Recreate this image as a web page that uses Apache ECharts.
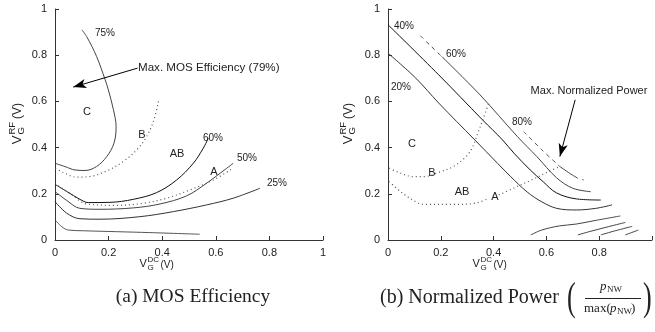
<!DOCTYPE html>
<html><head><meta charset="utf-8">
<script src="https://cdn.jsdelivr.net/npm/echarts@6/dist/echarts.min.js"></script>
<style>html,body{margin:0;padding:0;background:#fff}#c{width:655px;height:332px}</style>
</head><body><div id="c"></div>
<script>
// ---- axis ticks ----
const xTicks = [0, 0.2, 0.4, 0.6, 0.8, 1];
const yTicks = [0, 0.2, 0.4, 0.6, 0.8, 1];

// ---- (a) MOS efficiency contours [VG_DC, VG_RF] ----
const mos75 = [[0.100,0.910],[0.118,0.881],[0.155,0.795],[0.187,0.694],[0.199,0.650],[0.218,0.564],[0.228,0.491],[0.220,0.419],[0.193,0.361],[0.155,0.318],[0.112,0.301],[0.075,0.303],[0.037,0.318],[0,0.332]];
const mosB = [[0.386,0.600],[0.369,0.520],[0.342,0.448],[0.305,0.390],[0.255,0.340],[0.193,0.299],[0.131,0.275],[0.081,0.272],[0.031,0.292],[0,0.311]];
const mos60 = [[0,0.241],[0.044,0.210],[0.093,0.176],[0.124,0.162],[0.205,0.163],[0.292,0.176],[0.379,0.205],[0.454,0.260],[0.516,0.332],[0.553,0.397],[0.572,0.441]];
const mosA = [[0,0.243],[0.056,0.202],[0.118,0.156],[0.230,0.150],[0.330,0.159],[0.417,0.181],[0.504,0.217],[0.591,0.260],[0.665,0.311]];
const mos50 = [[0,0.210],[0.044,0.171],[0.093,0.137],[0.168,0.133],[0.292,0.139],[0.392,0.156],[0.491,0.191],[0.566,0.246],[0.616,0.289],[0.665,0.332]];
const mos25 = [[0,0.166],[0.044,0.116],[0.093,0.092],[0.168,0.090],[0.317,0.101],[0.442,0.123],[0.566,0.152],[0.665,0.181],[0.765,0.224]];
const mosLow = [[0,0.087],[0.025,0.058],[0.050,0.043],[0.106,0.040],[0.230,0.036],[0.354,0.032],[0.540,0.025]];
const arrowMOS = [[0.308,0.744],[0.068,0.662]];

// ---- (b) normalized power contours ----
const pw20 = [[0,0.809],[0.105,0.701],[0.192,0.593],[0.329,0.433],[0.415,0.332],[0.465,0.274],[0.527,0.208],[0.583,0.165],[0.639,0.137],[0.713,0.130],[0.787,0.137],[0.849,0.152]];
const pw40 = [[0,0.932],[0.192,0.715],[0.358,0.520],[0.434,0.433],[0.477,0.376],[0.539,0.303],[0.589,0.251],[0.638,0.204],[0.713,0.178],[0.806,0.173]];
const pw60dash = [[0.123,0.884],[0.162,0.840],[0.203,0.795]];
const pw60 = [[0.203,0.795],[0.348,0.629],[0.490,0.448],[0.564,0.361],[0.639,0.269],[0.700,0.224],[0.768,0.209]];
const pw80dash = [[0.514,0.469],[0.583,0.390],[0.651,0.318]];
const pw80 = [[0.651,0.318],[0.688,0.289],[0.719,0.267]];
const pw80tail = [[0.735,0.262],[0.742,0.260]];
const pwB = [[0.005,0.311],[0.048,0.289],[0.098,0.274],[0.135,0.274],[0.199,0.296],[0.247,0.318],[0.296,0.361],[0.321,0.404],[0.340,0.462],[0.359,0.520],[0.384,0.599]];
const pwA = [[0.005,0.253],[0.048,0.209],[0.115,0.160],[0.148,0.154],[0.247,0.154],[0.333,0.160],[0.380,0.180]];
const pwA2 = [[0.420,0.195],[0.477,0.225],[0.544,0.260],[0.601,0.292],[0.651,0.318]];
const pwLow1 = [[0.541,0.022],[0.582,0.043],[0.649,0.061],[0.713,0.069],[0.787,0.085],[0.880,0.104]];
const pwLow2 = [[0.719,0.022],[0.762,0.036],[0.836,0.058],[0.899,0.076]];
const pwLow3 = [[0.806,0.022],[0.861,0.040],[0.925,0.059]];
const pwLow4 = [[0.899,0.022],[0.948,0.043]];
const arrowPW = [[0.709,0.607],[0.651,0.361]];

const SANS = 'Liberation Sans, Arial, sans-serif';
const SERIF = 'Liberation Serif, Times New Roman, serif';

function xAxisCfg(grid, hideOne) {
  return {
    type: 'value', gridIndex: grid, min: xTicks[0], max: xTicks[xTicks.length-1], interval: 0.2,
    axisLine: { lineStyle: { color: '#333', width: 1 } },
    axisTick: { inside: true, length: 4, lineStyle: { color: '#333' } },
    axisLabel: { fontFamily: SANS, fontSize: 11, color: '#222', margin: 7,
      formatter: v => (hideOne && v === 1) ? '' : (v === 0 ? '0' : v === 1 ? '1' : v.toFixed(1)) },
    splitLine: { show: false }
  };
}
function yAxisCfg(grid) {
  return {
    type: 'value', gridIndex: grid, min: yTicks[0], max: yTicks[yTicks.length-1], interval: 0.2,
    axisLine: { show: true, lineStyle: { color: '#333', width: 1 } },
    axisTick: { show: true, inside: true, length: 4, lineStyle: { color: '#333' } },
    axisLabel: { fontFamily: SANS, fontSize: 11, color: '#222', margin: 8,
      formatter: v => (v === 0 ? '0' : v === 1 ? '1' : v.toFixed(1)) },
    splitLine: { show: false }
  };
}

function curve(data, g, color, type, width) {
  return {
    type: 'line', xAxisIndex: g, yAxisIndex: g, data: data, showSymbol: false, symbol: 'none',
    smooth: 0.35, animation: false, silent: true,
    lineStyle: { color: color, width: width || 1, type: type || 'solid' }
  };
}
function arrow(data, g) {
  return {
    type: 'line', xAxisIndex: g, yAxisIndex: g, data: [], showSymbol: false, animation: false, silent: true,
    markLine: {
      silent: true, animation: false, symbol: ['none', 'arrow'], symbolSize: [7, 13],
      label: { show: false },
      lineStyle: { color: '#000', width: 1, type: 'solid' },
      data: [[{ coord: data[0] }, { coord: data[1] }]]
    }
  };
}

const DOT = [1, 3];
const DASH = [4, 4];
const series = [
  curve(mos75, 0, '#444'),
  curve(mosB, 0, '#555', DOT, 1.2),
  curve(mos60, 0, '#111'),
  curve(mosA, 0, '#555', DOT, 1.2),
  curve(mos50, 0, '#444'),
  curve(mos25, 0, '#333'),
  curve(mosLow, 0, '#555'),
  arrow(arrowMOS, 0),
  curve(pw20, 1, '#333'),
  curve(pw40, 1, '#111'),
  curve(pw60dash, 1, '#444', DASH),
  curve(pw60, 1, '#444'),
  curve(pw80dash, 1, '#555', DASH),
  curve(pw80, 1, '#444'),
  curve(pw80tail, 1, '#666'),
  curve(pwB, 1, '#555', DOT, 1.2),
  curve(pwA, 1, '#555', DOT, 1.2),
  curve(pwA2, 1, '#555', DOT, 1.2),
  curve(pwLow1, 1, '#444'),
  curve(pwLow2, 1, '#444'),
  curve(pwLow3, 1, '#444'),
  curve(pwLow4, 1, '#444'),
  arrow(arrowPW, 1)
];

function T(text, x, y, opts) {
  opts = opts || {};
  return {
    type: 'text', x: x, y: y, silent: true, rotation: opts.rot || 0,
    style: {
      text: text, fill: opts.fill || '#222',
      font: (opts.italic ? 'italic ' : '') + (opts.size || 11) + 'px ' + (opts.family || SANS),
      textAlign: opts.align || 'center', align: opts.align || 'center',
      textVerticalAlign: opts.va || 'middle', verticalAlign: opts.va || 'middle'
    }
  };
}
// composite axis label: V with superscript/subscript, then (V)
function vLabel(sup, sub, cx, cy, rot, big) {
  const s = big ? 1.2 : 1;
  const w = (sup.length > 1 ? 13 : 8) * s;
  const vw = 8 * s;
  const total = vw + w + 16 * s;
  const x0 = -total / 2;
  return {
    type: 'group', x: cx, y: cy, rotation: rot || 0, silent: true,
    children: [
      T('V', x0, 0, { size: 11 * s, align: 'left' }),
      T(sup, x0 + vw, -4 * s, { size: 8 * s, align: 'left' }),
      T(sub, x0 + vw, 4 * s, { size: 8 * s, align: 'left' }),
      T('(V)', x0 + vw + w, 1, { size: 10 * s, align: 'left' })
    ]
  };
}

const graphic = [
  // (a) labels
  T('75%', 105, 33, { size: 10 }),
  T('Max. MOS Efficiency (79%)', 138, 68, { size: 11.6, align: 'left' }),
  T('C', 87, 112, { size: 11 }),
  T('B', 142, 135, { size: 11 }),
  T('60%', 213, 138, { size: 10 }),
  T('AB', 177, 154, { size: 11 }),
  T('50%', 247, 158, { size: 10 }),
  T('A', 214, 172, { size: 11 }),
  T('25%', 277, 183, { size: 10 }),
  vLabel('RF', 'G', 17, 122, Math.PI / 2, true),
  vLabel('DC', 'G', 158, 264, 0, false),
  T('(a) MOS Efficiency', 193, 297, { size: 19.5, family: SERIF }),
  // (b) labels
  T('40%', 404, 26, { size: 10 }),
  T('60%', 456, 54, { size: 10 }),
  T('20%', 401, 87, { size: 10 }),
  T('80%', 522, 122, { size: 10 }),
  T('Max. Normalized Power', 589, 91, { size: 11 }),
  T('C', 412, 144, { size: 11 }),
  T('B', 432, 173, { size: 11 }),
  T('AB', 462, 192, { size: 11 }),
  T('A', 495, 197, { size: 11 }),
  vLabel('RF', 'G', 348, 122, Math.PI / 2, true),
  vLabel('DC', 'G', 491, 264, 0, false),
  T('(b) Normalized Power', 380, 298, { size: 20, family: SERIF, align: 'left' }),
  { type: 'text', x: 567, y: 299, silent: true, scaleX: 0.65,
    style: { text: '(', fill: '#222', font: '40px ' + SERIF, align: 'left', textAlign: 'left', verticalAlign: 'middle', textVerticalAlign: 'middle' } },
  { type: 'text', x: 643, y: 299, silent: true, scaleX: 0.65,
    style: { text: ')', fill: '#222', font: '40px ' + SERIF, align: 'left', textAlign: 'left', verticalAlign: 'middle', textVerticalAlign: 'middle' } },
  T('p', 600, 287, { size: 13, family: SERIF, italic: true, align: 'left' }),
  T('NW', 607, 290, { size: 9, family: SERIF, align: 'left' }),
  { type: 'line', silent: true, shape: { x1: 585, y1: 298.5, x2: 641, y2: 298.5 }, style: { stroke: '#222', lineWidth: 1 } },
  T('max(', 584, 309, { size: 13, family: SERIF, align: 'left' }),
  T('p', 610, 309, { size: 13, family: SERIF, italic: true, align: 'left' }),
  T('NW', 617, 312, { size: 9, family: SERIF, align: 'left' }),
  T(')', 631, 309, { size: 13, family: SERIF, align: 'left' })
];

const chart = echarts.init(document.getElementById('c'), null, { renderer: 'canvas' });
chart.setOption({
  animation: false,
  backgroundColor: '#fff',
  grid: [
    { left: 55, width: 268, top: 9, height: 231 },
    { left: 388, width: 269, top: 9, height: 231 }
  ],
  xAxis: [xAxisCfg(0, false), xAxisCfg(1, true)],
  yAxis: [yAxisCfg(0), yAxisCfg(1)],
  series: series,
  graphic: graphic
});
</script></body></html>
